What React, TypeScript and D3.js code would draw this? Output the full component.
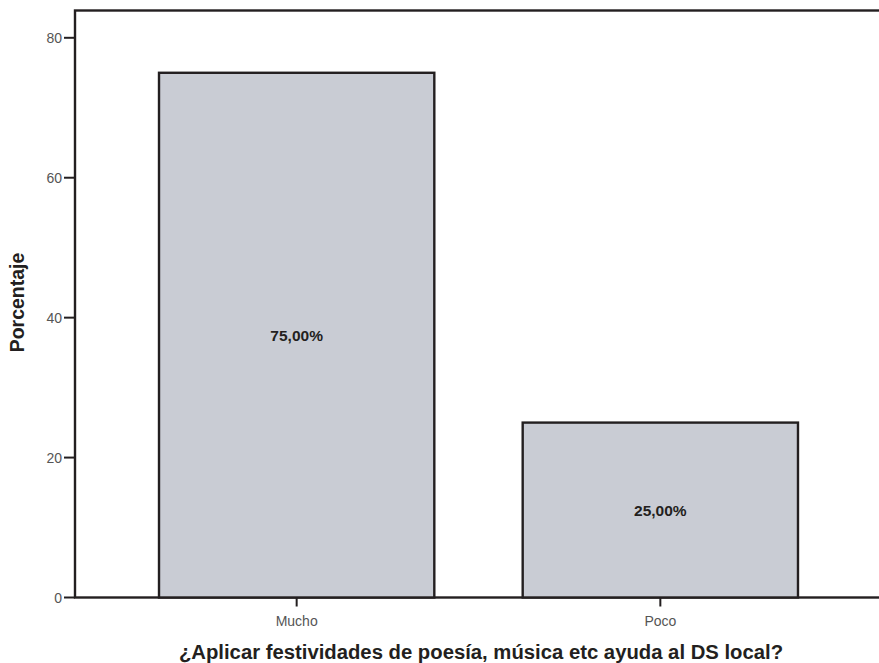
import React from "react";
import * as d3 from "d3";

const categories = ["Mucho", "Poco"];
const values = [75, 25];
const valueLabels = ["75,00%", "25,00%"];
const yTicks = [0, 20, 40, 60, 80];
const xTitle = "¿Aplicar festividades de poesía, música etc ayuda al DS local?";
const yTitle = "Porcentaje";

const W = 879;
const H = 663;
const left = 75;
const top = 10.5;
const bottom = 597.5;
const right = 882;

export default function App() {
  const y = d3.scaleLinear().domain([0, 80]).range([bottom, 37.8]);
  const x = d3
    .scaleBand<string>()
    .domain(categories)
    .range([left, right])
    .paddingInner(0.243)
    .paddingOuter(0.231);
  const font = "'Liberation Sans', Arial, Helvetica, sans-serif";
  const ink = "#231f20";
  return (
    <div style={{ position: "absolute", left: 0, top: 0 }}>
      <svg width={W} height={H} style={{ display: "block", background: "#fff" }} fontFamily={font}>
        {/* frame */}
        <rect x={left} y={top} width={right - left} height={bottom - top} fill="none" stroke={ink} strokeWidth={2.4} />
        {/* bars */}
        {categories.map((c, i) => (
          <g key={c}>
            <rect
              x={x(c)!}
              y={y(values[i])}
              width={x.bandwidth()}
              height={y(0) - y(values[i])}
              fill="#c9ccd4"
              stroke={ink}
              strokeWidth={2.4}
            />
            <text
              x={x(c)! + x.bandwidth() / 2}
              y={(y(values[i]) + y(0)) / 2 + 6}
              textAnchor="middle"
              fontSize={15.5}
              fontWeight="bold"
              fill={ink}
            >
              {valueLabels[i]}
            </text>
            <line
              x1={x(c)! + x.bandwidth() / 2}
              x2={x(c)! + x.bandwidth() / 2}
              y1={bottom}
              y2={bottom + 9}
              stroke={ink}
              strokeWidth={2}
            />
            <text
              x={x(c)! + x.bandwidth() / 2}
              y={bottom + 28}
              textAnchor="middle"
              fontSize={14}
              fill="#555"
            >
              {c}
            </text>
          </g>
        ))}
        {/* y ticks */}
        {yTicks.map((t) => (
          <g key={t}>
            <line x1={left - 11} x2={left} y1={y(t)} y2={y(t)} stroke={ink} strokeWidth={2} />
            <text x={left - 13} y={y(t) + 5} textAnchor="end" fontSize={14} fill="#555">
              {t}
            </text>
          </g>
        ))}
        {/* axis titles */}
        <text x={481} y={659} textAnchor="middle" fontSize={20.3} fontWeight="bold" fill={ink}>
          {xTitle}
        </text>
        <text
          transform={`translate(24, 302.5) rotate(-90)`}
          textAnchor="middle"
          fontSize={19.5}
          fontWeight="bold"
          fill={ink}
        >
          {yTitle}
        </text>
      </svg>
    </div>
  );
}
